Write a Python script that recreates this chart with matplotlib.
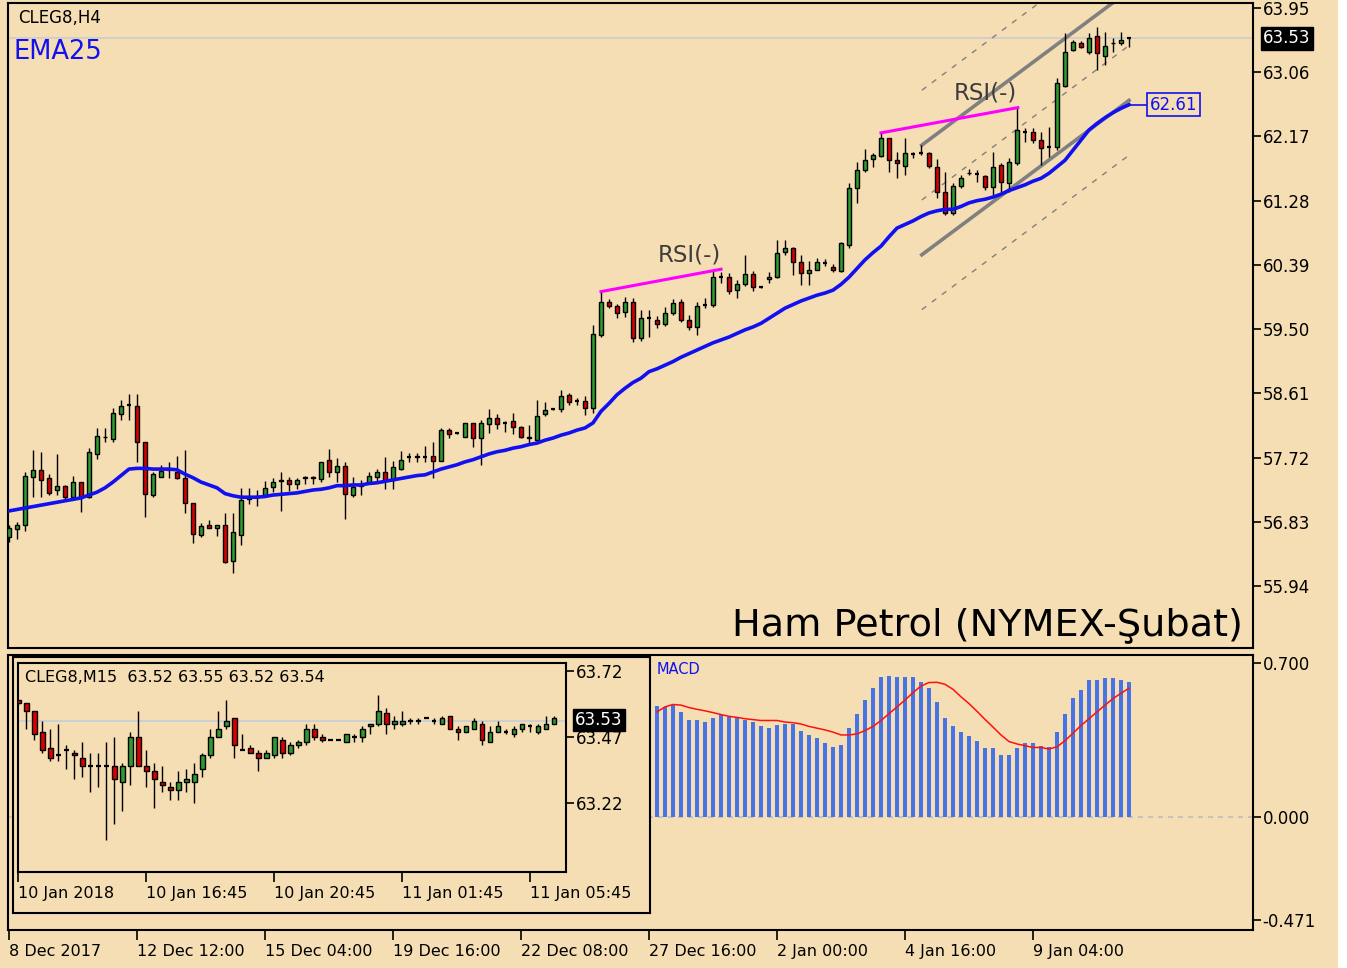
import matplotlib
matplotlib.use('Agg')
import matplotlib.pyplot as plt
from matplotlib.patches import Rectangle
import numpy as np

# ---------------- DATA ----------------
# main H4 candles (bar index 0..140)
h4_open = [56.62,56.73,56.79,57.45,57.55,57.44,57.27,57.32,57.17,57.38,57.17,57.77,58.00,57.98,58.33,58.45,58.43,57.94,57.20,57.45,
           57.55,57.52,57.44,57.09,56.65,56.79,56.74,56.79,56.29,56.65,57.15,57.17,57.20,57.31,57.40,57.41,57.36,57.43,57.44,57.42,
           57.69,57.52,57.60,57.20,57.33,57.37,57.45,57.52,57.41,57.56,57.73,57.73,57.73,57.74,57.67,58.10,58.06,58.00,58.20,57.99,
           58.19,58.27,58.20,58.22,58.15,58.01,57.96,58.33,58.39,58.39,58.59,58.50,58.50,58.40,59.42,59.88,59.82,59.74,59.88,59.38,
           59.65,59.63,59.57,59.72,59.88,59.63,59.53,59.84,59.83,60.22,60.22,60.04,60.12,60.26,60.08,60.20,60.22,60.57,60.62,60.43,
           60.28,60.32,60.42,60.36,60.31,60.67,61.46,61.70,61.86,61.90,62.15,61.84,61.76,61.93,61.94,61.94,61.75,61.40,61.11,61.49,
           61.66,61.65,61.62,61.47,61.78,61.52,61.80,62.23,62.23,62.12,62.02,62.02,62.87,63.37,63.47,63.34,63.56,63.28,63.46,63.47,
           63.53]
h4_high = [56.78,56.82,57.52,57.82,57.80,57.49,57.77,57.34,57.46,57.38,57.85,58.13,58.13,58.41,58.52,58.60,58.60,57.94,57.52,57.62,
           57.66,57.74,57.82,57.09,56.81,56.85,56.79,56.95,56.95,57.30,57.30,57.27,57.39,57.44,57.52,57.45,57.44,57.47,57.47,57.66,
           57.84,57.71,57.66,57.45,57.41,57.52,57.56,57.73,57.67,57.81,57.78,57.78,57.88,57.94,58.13,58.13,58.08,58.20,58.20,58.24,
           58.39,58.32,58.22,58.34,58.16,58.17,58.52,58.49,58.40,58.65,58.62,58.55,58.57,59.56,60.01,59.92,59.85,59.95,59.93,59.77,
           59.77,59.68,59.80,59.92,59.92,59.70,59.88,59.93,60.32,60.29,60.28,60.18,60.53,60.30,60.09,60.29,60.73,60.73,60.64,60.53,
           60.45,60.49,60.47,60.40,60.71,61.52,61.82,62.00,61.94,62.22,62.15,61.95,62.15,61.95,62.05,61.95,61.86,61.68,61.52,61.64,
           61.72,61.70,61.64,61.95,61.80,61.87,62.57,62.29,62.29,62.23,62.30,62.98,63.60,63.51,63.49,63.60,63.69,63.62,63.53,63.62,
           63.53]
h4_low = [56.55,56.59,56.70,57.17,57.17,57.20,57.20,57.14,57.13,56.97,57.16,57.70,57.93,57.93,58.24,58.24,57.66,56.90,57.17,57.45,
          57.44,57.42,56.95,56.54,56.62,56.74,56.63,56.26,56.12,56.51,57.08,57.05,57.17,57.24,56.98,57.26,57.29,57.35,57.35,57.38,
          57.45,57.38,56.87,57.17,57.20,57.35,57.40,57.28,57.28,57.55,57.66,57.66,57.66,57.44,57.67,57.99,58.04,58.00,57.87,57.62,
          58.06,58.12,58.08,58.04,57.99,57.92,57.94,58.30,58.38,58.35,58.45,58.45,58.31,58.34,59.39,59.79,59.65,59.67,59.32,59.34,
          59.39,59.51,59.55,59.69,59.60,59.49,59.42,59.79,59.81,60.14,59.99,59.93,60.10,60.03,60.07,60.14,60.21,60.53,60.25,60.11,
          60.11,60.32,60.37,60.29,60.29,60.62,61.25,61.68,61.75,61.89,61.68,61.59,61.64,61.87,61.91,61.73,61.32,61.08,61.08,61.45,
          61.64,61.54,61.43,61.36,61.40,61.40,61.77,62.09,62.08,61.77,61.88,61.98,62.85,63.35,63.40,63.32,63.09,63.16,63.34,63.44,
          63.41]
h4_close = [56.74,56.79,57.46,57.55,57.41,57.23,57.32,57.17,57.38,57.17,57.80,58.02,58.01,58.34,58.43,58.45,57.94,57.22,57.49,57.53,
            57.55,57.44,57.09,56.66,56.77,56.74,56.79,56.27,56.69,57.13,57.17,57.17,57.30,57.38,57.41,57.35,57.41,57.45,57.45,57.66,
            57.52,57.60,57.22,57.31,57.34,57.47,57.52,57.41,57.59,57.69,57.73,57.74,57.73,57.67,58.10,58.05,58.06,58.20,57.99,58.20,
            58.27,58.19,58.20,58.15,58.01,57.99,58.30,58.38,58.39,58.57,58.49,58.50,58.40,59.43,59.88,59.82,59.72,59.88,59.38,59.65,
            59.65,59.57,59.72,59.86,59.63,59.53,59.82,59.84,60.22,60.22,60.03,60.12,60.26,60.08,60.08,60.22,60.55,60.62,60.43,60.28,
            60.32,60.43,60.42,60.32,60.69,61.46,61.70,61.84,61.91,62.15,61.84,61.80,61.94,61.93,61.94,61.76,61.40,61.11,61.48,61.59,
            61.67,61.65,61.47,61.75,61.54,61.82,62.26,62.23,62.12,62.01,62.02,62.91,63.34,63.48,63.41,63.53,63.33,63.42,63.47,63.51,
            63.53]
ema25 = [56.98,57.00,57.02,57.04,57.06,57.08,57.10,57.12,57.14,57.16,57.20,57.24,57.30,57.38,57.47,57.56,57.57,57.57,57.56,57.56,
         57.56,57.55,57.49,57.44,57.38,57.34,57.30,57.22,57.19,57.17,57.17,57.17,57.18,57.20,57.21,57.22,57.23,57.25,57.27,57.28,
         57.30,57.33,57.33,57.34,57.34,57.36,57.37,57.39,57.41,57.43,57.45,57.47,57.48,57.52,57.56,57.59,57.62,57.66,57.69,57.73,
         57.77,57.80,57.82,57.85,57.87,57.90,57.92,57.96,57.99,58.03,58.06,58.10,58.13,58.20,58.36,58.47,58.59,58.68,58.76,58.82,
         58.91,58.95,59.00,59.05,59.11,59.16,59.21,59.26,59.31,59.35,59.39,59.44,59.49,59.53,59.58,59.65,59.72,59.79,59.84,59.89,
         59.93,59.97,60.00,60.04,60.12,60.22,60.34,60.46,60.56,60.65,60.78,60.90,60.95,61.00,61.06,61.11,61.14,61.16,61.16,61.20,
         61.25,61.28,61.30,61.33,61.37,61.42,61.46,61.50,61.55,61.59,61.66,61.75,61.84,61.98,62.12,62.26,62.35,62.43,62.50,62.56,
         62.61]
date_tick_bars = [0, 16, 32, 48, 64, 80, 96, 112, 128]
date_tick_labels = ['8 Dec 2017', '12 Dec 12:00', '15 Dec 04:00', '19 Dec 16:00', '22 Dec 08:00',
                    '27 Dec 16:00', '2 Jan 00:00', '4 Jan 16:00', '9 Jan 04:00']
price_ticks = [55.94, 56.83, 57.72, 58.61, 59.50, 60.39, 61.28, 62.17, 63.06, 63.95]
last_price = 63.53
ema_last = 62.61

# regression channel (start bar, end bar, 5 line levels)
chan_bars = [114.1, 140.0]
chan_start = [62.81, 62.05, 61.29, 60.53, 59.77]
chan_end = [64.95, 64.19, 63.43, 62.67, 61.91]
# RSI divergence lines
rsi1_bars, rsi1_prices = [74.0, 89.0], [60.02, 60.33]
rsi2_bars, rsi2_prices = [109.0, 126.1], [62.22, 62.57]

# MACD (visible bars 81..140)
macd_first_bar = 81
macd_hist = [0.505,0.500,0.508,0.477,0.438,0.438,0.431,0.449,0.462,0.454,0.454,0.438,0.431,0.412,0.403,0.418,0.423,0.423,0.392,0.374,
             0.357,0.335,0.318,0.328,0.403,0.466,0.531,0.588,0.634,0.642,0.634,0.634,0.634,0.615,0.588,0.523,0.449,0.411,0.385,0.366,
             0.346,0.311,0.311,0.280,0.280,0.311,0.334,0.334,0.323,0.318,0.385,0.466,0.542,0.577,0.623,0.623,0.631,0.631,0.623,0.615]
macd_signal = [0.477,0.500,0.511,0.508,0.497,0.489,0.482,0.474,0.465,0.457,0.452,0.446,0.442,0.438,0.438,0.438,0.431,0.428,0.422,0.411,
               0.403,0.395,0.385,0.372,0.372,0.377,0.392,0.411,0.438,0.469,0.500,0.531,0.565,0.595,0.611,0.612,0.603,0.580,0.546,0.515,
               0.480,0.443,0.408,0.372,0.342,0.331,0.323,0.315,0.315,0.308,0.318,0.346,0.380,0.415,0.446,0.477,0.508,0.538,0.562,0.585]
macd_ticks = [0.700, 0.000, -0.471]

# inset M15 candles (68 bars)
m15_open = [63.61,63.60,63.57,63.49,63.43,63.40,63.42,63.41,63.39,63.36,63.36,63.36,63.36,63.30,63.36,63.47,63.36,63.34,63.30,63.28,
            63.27,63.30,63.30,63.35,63.40,63.47,63.51,63.54,63.42,63.43,63.41,63.39,63.40,63.46,63.41,63.44,63.45,63.50,63.47,63.46,
            63.46,63.45,63.47,63.47,63.51,63.52,63.56,63.52,63.52,63.53,63.53,63.54,63.53,63.52,63.55,63.50,63.49,63.50,63.52,63.45,
            63.49,63.49,63.48,63.50,63.51,63.49,63.50,63.52]
m15_high = [63.61,63.60,63.57,63.53,63.50,63.52,63.44,63.42,63.45,63.41,63.41,63.45,63.47,63.37,63.49,63.57,63.42,63.37,63.36,63.30,
            63.34,63.35,63.37,63.41,63.50,63.57,63.61,63.54,63.48,63.44,63.42,63.42,63.47,63.47,63.45,63.46,63.52,63.52,63.48,63.46,
            63.46,63.48,63.48,63.51,63.52,63.63,63.58,63.55,63.57,63.54,63.54,63.54,63.54,63.55,63.55,63.51,63.51,63.54,63.53,63.51,
            63.53,63.50,63.51,63.52,63.52,63.52,63.55,63.55]
m15_low = [63.59,63.50,63.46,63.41,63.38,63.38,63.35,63.31,63.32,63.26,63.28,63.08,63.14,63.19,63.29,63.36,63.28,63.20,63.26,63.23,
           63.23,63.26,63.22,63.32,63.39,63.47,63.50,63.39,63.42,63.41,63.34,63.39,63.39,63.39,63.40,63.43,63.44,63.46,63.45,63.46,
           63.46,63.45,63.45,63.45,63.48,63.51,63.48,63.50,63.51,63.52,63.52,63.54,63.52,63.52,63.50,63.46,63.49,63.50,63.44,63.45,
           63.49,63.48,63.47,63.49,63.49,63.48,63.50,63.52]
m15_close = [63.60,63.57,63.48,63.42,63.39,63.40,63.42,63.40,63.36,63.36,63.36,63.36,63.31,63.36,63.47,63.36,63.34,63.31,63.29,63.27,
             63.30,63.31,63.33,63.40,63.47,63.50,63.53,63.44,63.42,63.41,63.39,63.41,63.47,63.41,63.44,63.45,63.50,63.47,63.46,63.46,
             63.46,63.48,63.47,63.50,63.52,63.57,63.52,63.53,63.53,63.53,63.53,63.54,63.53,63.54,63.50,63.49,63.51,63.53,63.46,63.49,
             63.51,63.49,63.50,63.52,63.51,63.51,63.52,63.54]
m15_tick_bars = [0, 16, 32, 48, 64]
m15_tick_labels = ['10 Jan 2018', '10 Jan 16:45', '10 Jan 20:45', '11 Jan 01:45', '11 Jan 05:45']
m15_price_ticks = [63.72, 63.47, 63.22]

# ---------------- STYLE ----------------
W, H = 1347, 968
BG = '#F5DEB3'
UP = '#2F9A2F'
DN = '#D80000'
BLUE = '#1010F0'
plt.rcParams['font.family'] = ['DejaVu Sans']

fig = plt.figure(figsize=(W / 100, H / 100), dpi=100)
fig.patch.set_facecolor(BG)


def rect(x0, y0, x1, y1):
    return [x0 / W, 1 - y1 / H, (x1 - x0) / W, (y1 - y0) / H]


def fx(x):
    return x / W


def fy(y):
    return 1 - y / H


def draw_candles(ax, xs, o, h, l, c, width, lw=1.0):
    xs = np.asarray(xs, float)
    o, h, l, c = (np.asarray(v, float) for v in (o, h, l, c))
    ax.vlines(xs, l, h, color='black', lw=lw, zorder=3)
    doji = np.abs(c - o) < 0.006
    nd = ~doji
    cols = np.where(c >= o, UP, DN)
    ax.bar(xs[nd], (c - o)[nd], bottom=o[nd], width=width, color=cols[nd],
           edgecolor='black', linewidth=lw, zorder=4)
    ax.hlines(o[doji], xs[doji] - width / 2, xs[doji] + width / 2, color='black', lw=lw * 1.6, zorder=4)


def style_axes(ax):
    ax.set_facecolor(BG)
    for s in ax.spines.values():
        s.set_color('black')
        s.set_linewidth(1.5)
    ax.yaxis.tick_right()
    ax.tick_params(axis='y', direction='out', length=6, width=1.2, pad=1, labelsize=12, colors='black')


# ---------------- MAIN PANEL ----------------
ax = fig.add_axes(rect(8, 3, 1253, 648))
style_axes(ax)
nb = len(h4_close)
bars = np.arange(nb)
ax.set_xlim(-0.125, 155.5)
ax.set_ylim(55.08, 64.02)
ax.set_yticks(price_ticks)
ax.set_yticklabels(['%.2f' % v for v in price_ticks])
ax.set_xticks(date_tick_bars)
ax.tick_params(axis='x', length=0, labelbottom=False)

ax.axhline(last_price, color='#CDCDCD', lw=1.2, zorder=1)

# channel
styles = [(0, (4, 5)), '-', (0, (4, 5)), '-', (0, (4, 5))]
widths = [1.0, 2.6, 1.0, 2.6, 1.0]
for s0, s1, st, w in zip(chan_start, chan_end, styles, widths):
    ax.plot(chan_bars, [s0, s1], color='#808080', ls=st, lw=w, zorder=2)

ax.plot(bars, ema25, color=BLUE, lw=2.6, zorder=5)
draw_candles(ax, bars, h4_open, h4_high, h4_low, h4_close, 0.58)

ax.plot(rsi1_bars, rsi1_prices, color='#FF00FF', lw=2.2, zorder=6)
ax.plot(rsi2_bars, rsi2_prices, color='#FF00FF', lw=2.2, zorder=6)
ax.text(85.0, 60.53, 'RSI(-)', fontsize=16.5, color='#3C3C3C', ha='center', va='center', zorder=7)
ax.text(122.1, 62.77, 'RSI(-)', fontsize=16.5, color='#3C3C3C', ha='center', va='center', zorder=7)

# EMA label
ax.plot([nb - 1, 142.6], [ema_last, ema_last], color=BLUE, lw=1.2, zorder=5)
ax.text(142.6, ema_last, '%.2f' % ema_last, fontsize=12, color=BLUE, ha='left', va='center', zorder=7,
        bbox=dict(boxstyle='square,pad=0.15', fc=BG, ec=BLUE, lw=1.2))

fig.text(fx(1287), fy(38), '%.2f' % last_price, fontsize=12, color='white', ha='center', va='center',
         bbox=dict(boxstyle='square,pad=0.15', fc='black', ec='black'))

fig.text(fx(18), fy(18), 'CLEG8,H4', fontsize=12, color='black', ha='left', va='center')
fig.text(fx(14), fy(52), 'EMA25', fontsize=18.5, color=BLUE, ha='left', va='center')
fig.text(fx(1243), fy(625), 'Ham Petrol (NYMEX-Şubat)', fontsize=27.5, color='black', ha='right', va='center')

# ---------------- MACD PANEL ----------------
axm = fig.add_axes(rect(8, 655, 1253, 930))
style_axes(axm)
axm.set_xlim(-0.125, 155.5)
axm.set_ylim(-0.517, 0.7365)
axm.set_yticks(macd_ticks)
axm.set_yticklabels(['%.3f' % v for v in macd_ticks])
axm.axhline(0, color='#BEBEBE', ls=(0, (3, 3)), lw=1.2, zorder=1)
mx = np.arange(macd_first_bar, macd_first_bar + len(macd_hist))
axm.bar(mx, macd_hist, width=0.42, color='#4673E6', zorder=2)
axm.plot(mx, macd_signal, color='#FF1010', lw=1.1, zorder=3)
axm.set_xticks(date_tick_bars)
axm.set_xticklabels(date_tick_labels, fontsize=11.5)
for t in axm.get_xticklabels():
    t.set_horizontalalignment('left')
axm.tick_params(axis='x', direction='out', length=7, width=1.2, pad=3)
fig.text(fx(657), fy(670), 'MACD', fontsize=10.5, color=BLUE, ha='left', va='center')

# ---------------- INSET M15 ----------------
axf = fig.add_axes(rect(13, 657, 650, 913))
axf.set_facecolor(BG)
axf.set_xticks([])
axf.set_yticks([])
for s in axf.spines.values():
    s.set_color('black')
    s.set_linewidth(1.5)

axi = fig.add_axes(rect(18, 663, 566, 872))
style_axes(axi)
n15 = len(m15_close)
b15 = np.arange(n15)
axi.set_xlim(-0.05, 68.5)
axi.set_ylim(62.959, 63.75)
axi.set_yticks(m15_price_ticks)
axi.set_yticklabels(['%.2f' % v for v in m15_price_ticks])
axi.axhline(last_price, color='#C3CEDA', lw=1.2, zorder=1)
draw_candles(axi, b15, m15_open, m15_high, m15_low, m15_close, 0.6)
axi.set_xticks(m15_tick_bars)
axi.set_xticklabels(m15_tick_labels, fontsize=11.5)
for t in axi.get_xticklabels():
    t.set_horizontalalignment('left')
axi.tick_params(axis='x', direction='out', length=7, width=1.2, pad=3)
fig.text(fx(25), fy(677), 'CLEG8,M15  63.52 63.55 63.52 63.54', fontsize=11.5, color='black', ha='left', va='center')
fig.text(fx(599), fy(720), '%.2f' % last_price, fontsize=12, color='white', ha='center', va='center',
         bbox=dict(boxstyle='square,pad=0.12', fc='black', ec='black'), zorder=10)

# white strip at right edge
fig.patches.append(Rectangle((fx(1338), 0), 1 - fx(1338), 1, transform=fig.transFigure,
                             fc='white', ec='none', zorder=-1))

fig.savefig('out.png', dpi=100, facecolor=BG)
